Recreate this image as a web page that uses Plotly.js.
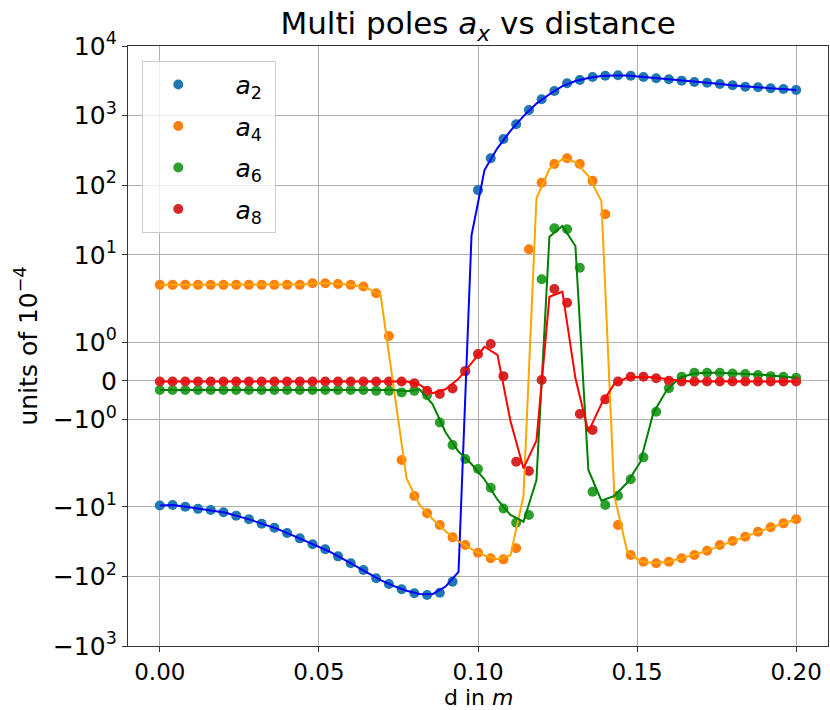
<!DOCTYPE html>
<html>
<head>
<meta charset="utf-8">
<script src="https://cdn.plot.ly/plotly-3.0.1.min.js"></script>
<style>html,body{margin:0;padding:0;background:#fff;}#chart{width:830px;height:710px;}</style>
</head>
<body>
<div id="chart"></div>
<script>
// ---- data (real values, units of 1e-4) ----
const dPts = [0.000,0.004,0.008,0.012,0.016,0.020,0.024,0.028,0.032,0.036,0.040,0.044,0.048,0.052,0.056,0.060,0.064,0.068,0.072,0.076,0.080,0.084,0.088,0.092,0.096,0.100,0.104,0.108,0.112,0.116,0.120,0.124,0.128,0.132,0.136,0.140,0.144,0.148,0.152,0.156,0.160,0.164,0.168,0.172,0.176,0.180,0.184,0.188,0.192,0.196,0.200];

const a2Pts = [-9.6,-9.4,-10.0,-10.7,-11.1,-12.0,-13.4,-15.1,-17.5,-20.0,-23.8,-28.4,-34.6,-40.8,-51.5,-64.9,-81,-106.6,-128.7,-153,-175,-185,-172,-119,0.25,85,244,461,751,1205,1716,2260,2914,3252,3590,3746,3798,3746,3590,3440,3327,3177,3041,2972,2848,2726,2604,2553,2469,2412,2334];
const a4Pts = [3.7,3.7,3.7,3.7,3.7,3.7,3.7,3.7,3.7,3.7,3.7,3.7,3.9,3.9,3.8,3.7,3.5,2.8,1.16,-2.13,-7.0,-12.4,-18.3,-27.5,-35.4,-45.7,-55,-56.9,-39.5,12.0,108.8,202,244,202,116,38.2,-18.3,-49.3,-61.5,-64.9,-61.5,-55,-49.3,-42.8,-35.4,-31,-26.9,-22.8,-19.7,-17.3,-15.1];
const a6Pts = [-0.24,-0.24,-0.24,-0.24,-0.24,-0.24,-0.24,-0.24,-0.24,-0.24,-0.24,-0.24,-0.24,-0.24,-0.24,-0.24,-0.24,-0.26,-0.26,-0.3,-0.26,-0.37,-1.08,-1.66,-2.06,-2.86,-5.32,-10.6,-16.9,-13.1,4.45,24.0,23.3,6.5,-6.07,-9.43,-6.93,-4.03,-1.98,-0.8,-0.19,0.106,0.21,0.21,0.21,0.19,0.176,0.15,0.12,0.106,0.08];
const a8Pts = [-0.02,-0.02,-0.02,-0.02,-0.02,-0.02,-0.02,-0.02,-0.02,-0.02,-0.02,-0.02,-0.02,-0.02,-0.02,-0.02,-0.02,-0.02,-0.02,-0.02,-0.065,-0.26,-0.34,-0.2,0.25,0.69,0.95,0.12,-2.25,-3.06,0.02,3.23,2.05,-0.86,-1.27,-0.48,-0.02,0.106,0.106,0.065,0.0,-0.02,-0.02,-0.02,-0.02,-0.02,-0.02,-0.02,-0.02,-0.02,-0.02];

const dFit = [0.00000,0.00408,0.00816,0.01224,0.01633,0.02041,0.02449,0.02857,0.03265,0.03673,0.04082,0.04490,0.04898,0.05306,0.05714,0.06122,0.06531,0.06939,0.07347,0.07755,0.08163,0.08571,0.08980,0.09388,0.09796,0.10204,0.10612,0.11020,0.11429,0.11837,0.12245,0.12653,0.13061,0.13469,0.13878,0.14286,0.14694,0.15102,0.15510,0.15918,0.16327,0.16735,0.17143,0.17551,0.17959,0.18367,0.18776,0.19184,0.19592,0.20000];

const a2Fit = [-9.6,-9.4,-10.0,-10.7,-11.2,-12.1,-13.6,-15.4,-17.9,-20.6,-24.7,-29.7,-36,-43.4,-54.6,-69,-88,-113,-137,-161,-179,-180,-140,-86,19,165,342,602,984,1486,2027,2655,3134,3478,3698,3783,3760,3627,3473,3350,3204,3063,2982,2863,2738,2614,2557,2472,2413,2334];
const a4Fit = [3.7,3.7,3.7,3.7,3.7,3.7,3.7,3.7,3.7,3.7,3.7,3.75,3.9,3.9,3.8,3.65,3.3,2.65,-0.16,-3.9,-9.3,-15,-22.5,-31.4,-40.5,-50,-56.5,-50,-7,65,171,238,216,136,59.4,-7.0,-44.7,-60,-64,-62,-56,-50,-44,-37,-31.5,-27.3,-23.2,-19.9,-17.4,-15.1];
const a6Fit = [-0.24,-0.24,-0.24,-0.24,-0.24,-0.24,-0.24,-0.24,-0.24,-0.24,-0.24,-0.24,-0.24,-0.24,-0.24,-0.24,-0.24,-0.24,-0.24,-0.27,-0.22,-0.6,-1.33,-1.83,-2.43,-4.05,-7.9,-13.1,-16.4,-4.13,18.2,25.9,13.4,-2.96,-8.18,-7.0,-4.48,-2.27,-0.83,-0.26,0.072,0.18,0.21,0.21,0.2,0.185,0.165,0.135,0.11,0.08];
const a8Fit = [-0.02,-0.02,-0.02,-0.02,-0.02,-0.02,-0.02,-0.02,-0.02,-0.02,-0.02,-0.02,-0.02,-0.02,-0.02,-0.02,-0.02,-0.02,-0.02,-0.02,-0.1,-0.32,-0.22,0.05,0.46,0.88,0.67,-1.04,-2.8,-1.55,2.5,2.95,0.07,-1.32,-0.6,-0.08,0.085,0.1,0.09,0.04,0.0,-0.02,-0.02,-0.02,-0.02,-0.02,-0.02,-0.02,-0.02,-0.02];

const seriesNames = ['<i>a</i><sub>2</sub>','<i>a</i><sub>4</sub>','<i>a</i><sub>6</sub>','<i>a</i><sub>8</sub>'];
const yTickValues = [-1000,-100,-10,-1,0,1,10,100,1000,10000];
const yTickLabels = ['\u221210<sup>3</sup>','\u221210<sup>2</sup>','\u221210<sup>1</sup>','\u221210<sup>0</sup>','0','10<sup>0</sup>','10<sup>1</sup>','10<sup>2</sup>','10<sup>3</sup>','10<sup>4</sup>'];
const xTickValues = [0.00,0.05,0.10,0.15,0.20];

// ---- symmetric log transform (linthresh 2, linscale 1, base 10) ----
const LT = 2, ADJ = 1/(1-1/10);
function symlog(v){
  const a = Math.abs(v);
  if (a <= LT) return v*ADJ;
  return Math.sign(v)*LT*(ADJ + Math.log10(a/LT));
}
const T = arr => arr.map(symlog);

const dotColors = ['#1f77b4','#ff7f0e','#2ca02c','#d62728'];
const lineColors = ['#0000ff','#ffa500','#008000','#ff0000'];
const pts = [a2Pts,a4Pts,a6Pts,a8Pts];
const fits = [a2Fit,a4Fit,a6Fit,a8Fit];

const traces = [];
for (let i=0;i<4;i++){
  traces.push({
    x: dPts, y: T(pts[i]), type:'scatter', mode:'markers',
    name: '\u00A0\u00A0\u2005' + seriesNames[i] + '\u00A0', legendgroup: 'g'+i,
    marker:{color:dotColors[i], size:10, line:{width:0}},
    hoverinfo:'skip'
  });
}
for (let i=0;i<4;i++){
  traces.push({
    x: dFit, y: T(fits[i]), type:'scatter', mode:'lines',
    showlegend:false, legendgroup:'g'+i,
    line:{color:lineColors[i], width:2},
    hoverinfo:'skip'
  });
}

const FONT = 'DejaVu Sans, sans-serif';
const layout = {
  width:830, height:710,
  margin:{l:128, r:2, t:46, b:64, pad:0},
  paper_bgcolor:'#ffffff', plot_bgcolor:'#ffffff',
  font:{family:FONT, size:25, color:'#000'},
  title:{text:'Multi poles <i>a<sub>x</sub></i> vs distance', font:{family:FONT, size:31, color:'#000'},
         x:0.576, xanchor:'center', y:0.967, yanchor:'middle'},
  xaxis:{
    range:[-0.01,0.21], tickvals:xTickValues, tickformat:'.2f',
    showgrid:true, gridcolor:'#b0b0b0', gridwidth:1,
    zeroline:false, showline:true, linecolor:'#333', linewidth:1.2, mirror:true,
    ticks:'outside', ticklen:5, tickcolor:'#333',
    tickfont:{family:FONT, size:23, color:'#000'}
  },
  yaxis:{
    range:[symlog(-1000), symlog(10000)],
    tickvals: yTickValues.map(symlog), ticktext: yTickLabels,
    showgrid:true, gridcolor:'#b0b0b0', gridwidth:1,
    zeroline:false, showline:true, linecolor:'#333', linewidth:1.2, mirror:true,
    ticks:'outside', ticklen:5, tickcolor:'#333',
    tickfont:{family:FONT, size:25, color:'#000'},
    title:{text:'units of 10<sup>\u22124</sup>', font:{family:FONT, size:25, color:'#000'}, standoff:8}
  },
  annotations:[{
    text:'d in <i>m</i>', xref:'paper', yref:'paper', x:0.5, y:-0.086,
    xanchor:'center', yanchor:'middle', showarrow:false,
    font:{family:FONT, size:22, color:'#000'}
  }],
  legend:{
    x:0.0204, y:0.9755, xanchor:'left', yanchor:'top',
    bgcolor:'rgba(255,255,255,0.8)', bordercolor:'#cccccc', borderwidth:1,
    font:{family:FONT, size:25, color:'#000'},
    traceorder:'grouped', tracegroupgap:6, itemwidth:60
  },
  showlegend:true
};

Plotly.newPlot('chart', traces, layout, {staticPlot:true, displayModeBar:false});
</script>
</body>
</html>
